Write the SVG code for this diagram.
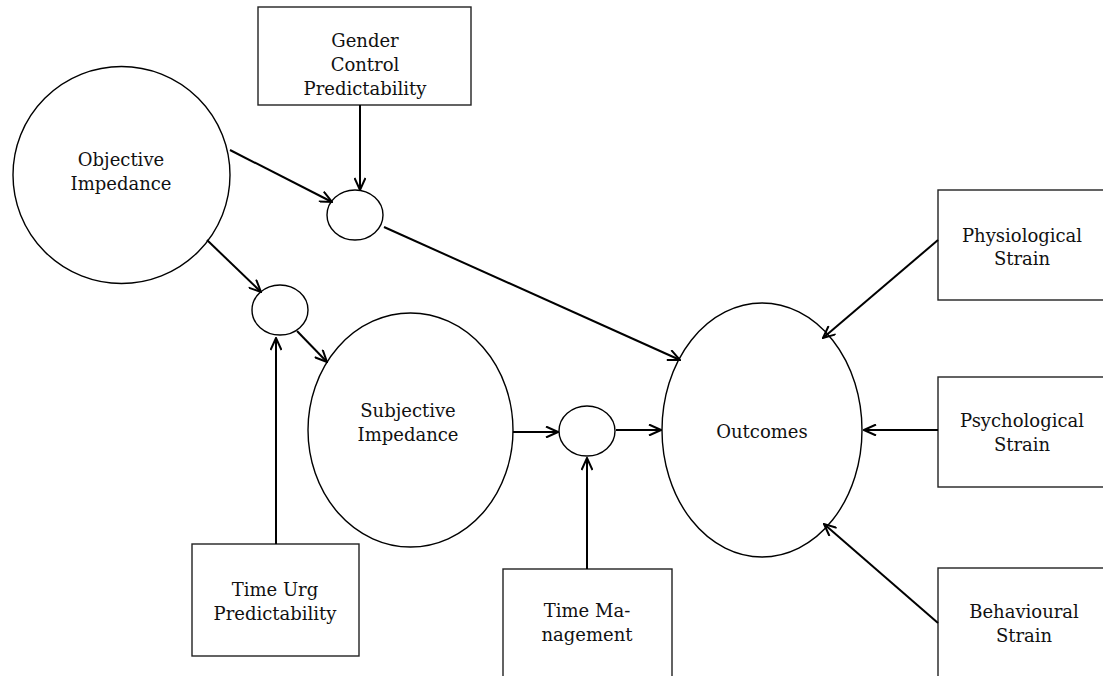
<svg xmlns="http://www.w3.org/2000/svg" width="1103" height="676" viewBox="0 0 1103 676">
<defs>
<marker id="ah" viewBox="0 0 14 12" refX="13" refY="6" markerWidth="14" markerHeight="12" markerUnits="userSpaceOnUse" orient="auto">
<path d="M1,0.5 L13,6 L1,11.5" fill="none" stroke="#000" stroke-width="2"/>
</marker>
<style>
.n{fill:#fff;stroke:#000;stroke-width:1.4}
.b{fill:#fff;stroke:#222;stroke-width:1.4}
.t{font-family:"DejaVu Serif","Liberation Serif",serif;font-size:18px;fill:#111;text-anchor:middle}
.c{stroke:#000;stroke-width:2;fill:none;marker-end:url(#ah)}
</style>
</defs>
<rect width="1103" height="676" fill="#fff"/>
<g id="gender"><rect class="b" x="258" y="7" width="213" height="98"/><text class="t"><tspan x="365" y="47">Gender</tspan><tspan x="365" y="71">Control</tspan><tspan x="365" y="95">Predictability</tspan></text></g>
<g id="objective"><circle class="n" cx="121.5" cy="175" r="108.5"/><text class="t"><tspan x="121" y="166">Objective</tspan><tspan x="121" y="190">Impedance</tspan></text></g>
<g id="mod1"><ellipse class="n" cx="355" cy="215" rx="28" ry="25"/></g>
<g id="mod2"><ellipse class="n" cx="280" cy="310" rx="28" ry="25"/></g>
<g id="subjective"><ellipse class="n" cx="410.5" cy="430" rx="102.5" ry="117"/><text class="t"><tspan x="408" y="417">Subjective</tspan><tspan x="408" y="441">Impedance</tspan></text></g>
<g id="mod3"><ellipse class="n" cx="587" cy="431" rx="28" ry="25"/></g>
<g id="outcomes"><ellipse class="n" cx="762" cy="430" rx="100" ry="127"/><text class="t" x="762" y="438">Outcomes</text></g>
<g id="physiological"><rect class="b" x="938" y="190" width="170" height="110"/><text class="t"><tspan x="1022" y="242">Physiological</tspan><tspan x="1022" y="265">Strain</tspan></text></g>
<g id="psychological"><rect class="b" x="938" y="377" width="170" height="110"/><text class="t"><tspan x="1022" y="427">Psychological</tspan><tspan x="1022" y="451">Strain</tspan></text></g>
<g id="behavioural"><rect class="b" x="938" y="568" width="170" height="120"/><text class="t"><tspan x="1024" y="618">Behavioural</tspan><tspan x="1024" y="642">Strain</tspan></text></g>
<g id="timeurg"><rect class="b" x="192" y="544" width="167" height="112"/><text class="t"><tspan x="275" y="596">Time Urg</tspan><tspan x="275" y="620">Predictability</tspan></text></g>
<g id="timemgmt"><rect class="b" x="503" y="569" width="169" height="120"/><text class="t"><tspan x="587" y="617">Time Ma-</tspan><tspan x="587" y="641">nagement</tspan></text></g>
<g id="connectors">
<path class="c" d="M230,150 L332,202"/>
<path class="c" d="M360,105 L360,190"/>
<path class="c" d="M384,227 L680,360"/>
<path class="c" d="M207,240 L261,292"/>
<path class="c" d="M276,544 L276,338"/>
<path class="c" d="M297,331 L327,362"/>
<path class="c" d="M513,432 L558,432"/>
<path class="c" d="M616,430 L661,430"/>
<path class="c" d="M587,569 L587,458"/>
<path class="c" d="M938,240 L823,338"/>
<path class="c" d="M938,430 L864,430"/>
<path class="c" d="M938,623 L824,524"/>
</g>
</svg>
